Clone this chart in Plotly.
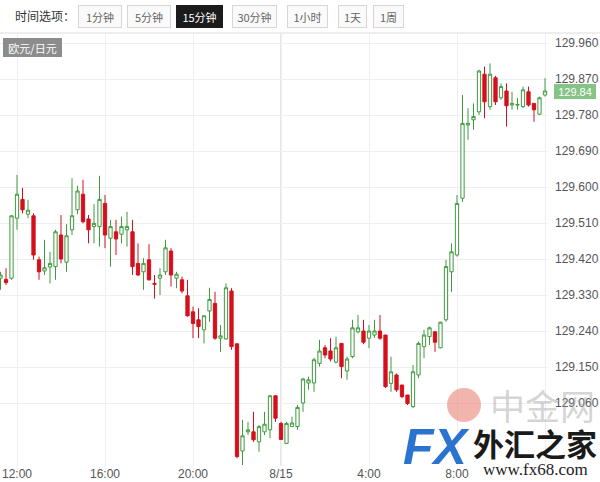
import pandas as pd
import plotly.graph_objects as go

# ---- data (EUR/JPY, 15-minute candles, 2017-08-14 11:15 .. 2017-08-15 12:00) ----
start_time = "2017-08-14 11:15"
opens = [129.372, 129.369, 129.372, 129.522, 129.569, 129.532, 129.528, 129.418, 129.390, 129.400,
         129.401, 129.480, 129.412, 129.493, 129.543, 129.582, 129.520, 129.501, 129.501, 129.559,
         129.472, 129.488, 129.482, 129.493, 129.488, 129.409, 129.388, 129.418, 129.359, 129.372,
         129.388, 129.440, 129.372, 129.368, 129.328, 129.288, 129.268, 129.243, 129.290, 129.309,
         129.222, 129.220, 129.340, 129.208, 128.940, 128.988, 128.988, 128.963, 128.988, 128.993,
         129.078, 129.009, 128.959, 129.001, 129.001, 129.060, 129.110, 129.110, 129.159, 129.198,
         129.190, 129.162, 129.209, 129.140, 129.176, 129.238, 129.240, 129.222, 129.230, 129.240,
         129.230, 129.109, 129.130, 129.105, 129.080, 129.051, 129.130, 129.201, 129.226, 129.238,
         129.198, 129.268, 129.388, 129.430, 129.572, 129.755, 129.768, 129.788, 129.882, 129.801,
         129.873, 129.823, 129.840, 129.805, 129.805, 129.801, 129.838, 129.809, 129.782, 129.830]
highs = [129.388, 129.397, 129.530, 129.630, 129.598, 129.568, 129.534, 129.426, 129.468, 129.438,
         129.493, 129.530, 129.507, 129.622, 129.603, 129.618, 129.530, 129.557, 129.628, 129.580,
         129.518, 129.518, 129.526, 129.538, 129.518, 129.459, 129.422, 129.457, 129.380, 129.397,
         129.468, 129.447, 129.388, 129.376, 129.368, 129.301, 129.297, 129.280, 129.348, 129.338,
         129.255, 129.359, 129.347, 129.209, 129.018, 129.013, 129.038, 129.005, 129.038, 129.080,
         129.080, 129.013, 129.013, 129.026, 129.055, 129.123, 129.126, 129.173, 129.218, 129.205,
         129.222, 129.226, 129.209, 129.176, 129.268, 129.280, 129.268, 129.255, 129.268, 129.280,
         129.230, 129.176, 129.134, 129.105, 129.080, 129.155, 129.213, 129.243, 129.251, 129.240,
         129.263, 129.418, 129.459, 129.580, 129.830, 129.797, 129.809, 129.893, 129.901, 129.909,
         129.878, 129.859, 129.859, 129.838, 129.822, 129.851, 129.851, 129.809, 129.826, 129.872]
lows = [129.343, 129.355, 129.368, 129.493, 129.534, 129.522, 129.418, 129.368, 129.380, 129.359,
        129.368, 129.409, 129.388, 129.480, 129.532, 129.509, 129.459, 129.459, 129.451, 129.447,
        129.401, 129.430, 129.459, 129.451, 129.380, 129.378, 129.343, 129.366, 129.321, 129.330,
        129.380, 129.351, 129.347, 129.334, 129.276, 129.222, 129.222, 129.209, 129.263, 129.218,
        129.188, 129.218, 129.193, 128.922, 128.905, 128.980, 128.963, 128.938, 128.980, 128.972,
        129.013, 128.968, 128.958, 129.001, 128.993, 129.038, 129.093, 129.088, 129.151, 129.172,
        129.164, 129.159, 129.122, 129.118, 129.172, 129.234, 129.207, 129.197, 129.223, 129.218,
        129.097, 129.088, 129.088, 129.072, 129.055, 129.047, 129.122, 129.172, 129.205, 129.188,
        129.197, 129.263, 129.338, 129.426, 129.563, 129.718, 129.743, 129.780, 129.772, 129.793,
        129.805, 129.818, 129.751, 129.793, 129.793, 129.797, 129.801, 129.763, 129.780, 129.826]
closes = [129.380, 129.361, 129.528, 129.582, 129.543, 129.542, 129.430, 129.388, 129.398, 129.409,
          129.488, 129.420, 129.478, 129.528, 129.590, 129.513, 129.493, 129.509, 129.569, 129.480,
          129.501, 129.470, 129.501, 129.501, 129.401, 129.380, 129.409, 129.368, 129.357, 129.380,
          129.448, 129.380, 129.382, 129.340, 129.278, 129.259, 129.251, 129.278, 129.319, 129.222,
          129.228, 129.348, 129.201, 128.926, 128.978, 128.993, 128.968, 129.001, 129.007, 129.078,
          129.022, 128.969, 129.009, 129.010, 129.049, 129.120, 129.118, 129.168, 129.190, 129.180,
          129.170, 129.198, 129.151, 129.170, 129.248, 129.248, 129.212, 129.240, 129.240, 129.222,
          129.101, 129.138, 129.093, 129.076, 129.059, 129.138, 129.209, 129.230, 129.248, 129.212,
          129.262, 129.401, 129.438, 129.559, 129.759, 129.759, 129.776, 129.890, 129.813, 129.882,
          129.813, 129.851, 129.803, 129.809, 129.806, 129.843, 129.805, 129.793, 129.823, 129.840]

y_ticks = [129.060, 129.150, 129.240, 129.330, 129.420, 129.510, 129.600, 129.690, 129.780, 129.870, 129.960]
y_tick_labels = ["129.060", "129.150", "129.240", "129.330", "129.420", "129.510",
                 "129.600", "129.690", "129.780", "129.870", "129.960"]
x_ticks = ["2017-08-14 12:00", "2017-08-14 16:00", "2017-08-14 20:00", "2017-08-15 00:00",
           "2017-08-15 04:00", "2017-08-15 08:00", "2017-08-15 12:00"]
x_tick_labels = ["12:00", "16:00", "20:00", "8/15", "4:00", "8:00", ""]
day_break = "2017-08-15 00:00"
last_price = 129.84
last_price_label = "129.84"
pair_label = "欧元/日元"
period_title = "时间选项："
period_buttons = ["1分钟", "5分钟", "15分钟", "30分钟", "1小时", "1天", "1周"]
selected_button = "15分钟"

times = pd.date_range(start_time, periods=len(opens), freq="15min")

GREEN = "#3f9a3f"
RED = "#d3101c"

fig = go.Figure(go.Candlestick(
    x=times, open=opens, high=highs, low=lows, close=closes,
    increasing=dict(line=dict(color=GREEN, width=1), fillcolor="white"),
    decreasing=dict(line=dict(color=RED, width=1), fillcolor=RED),
    whiskerwidth=0, hoverinfo="skip", showlegend=False,
))

# geometry helpers (pixel -> paper)
W, H = 600, 482
ML, MR, MT, MB = 0, 52, 34, 16
PW, PH = W - ML - MR, H - MT - MB


def px(x):
    return (x - ML) / PW


def py(y):
    return (H - MB - y) / PH


CJK = "Noto Sans CJK SC, Liberation Sans, Arial"

annotations = []
shapes = []

# top separator line
shapes.append(dict(type="line", xref="paper", yref="paper", x0=px(0), x1=px(600), y0=py(33), y1=py(33),
                   line=dict(color="#dcdcdc", width=1), layer="above"))
# day break line
shapes.append(dict(type="line", xref="x", yref="paper", x0=day_break, x1=day_break, y0=0, y1=py(34),
                   line=dict(color="#cfcfcf", width=1), layer="below"))

annotations.append(dict(text=period_title, xref="paper", yref="paper", x=px(13), y=py(16),
                        xanchor="left", yanchor="middle", showarrow=False,
                        font=dict(family=CJK, size=12, color="#333")))

btn_left = [78, 127, 176, 232, 287, 338, 373]
btn_width = [44, 44, 47, 45, 41, 29, 31]
for label, x0, w in zip(period_buttons, btn_left, btn_width):
    sel = label == selected_button
    annotations.append(dict(
        text=label, xref="paper", yref="paper", x=px(x0 + w / 2), y=py(16.5),
        xanchor="center", yanchor="middle", showarrow=False,
        width=w - 2, height=21, borderpad=0,
        bgcolor="#1b1b1b" if sel else "#fafafa",
        bordercolor="#1b1b1b" if sel else "#d6d6d6", borderwidth=1,
        font=dict(family=CJK, size=11, color="white" if sel else "#666"),
    ))

annotations.append(dict(text=pair_label, xref="paper", yref="paper", x=px(32.5), y=py(47.5),
                        xanchor="center", yanchor="middle", showarrow=False,
                        width=57, height=17, borderpad=0, bgcolor="#8c8c8c",
                        bordercolor="#8c8c8c", borderwidth=1,
                        font=dict(family=CJK, size=11, color="white")))

annotations.append(dict(text=last_price_label, xref="paper", yref="y", x=px(575), y=last_price,
                        xanchor="center", yanchor="middle", showarrow=False,
                        width=40, height=13, borderpad=0, bgcolor="#86c386",
                        bordercolor="#86c386", borderwidth=1,
                        font=dict(family="Liberation Sans, Arial", size=11, color="white")))

# watermark (FX68)
shapes.append(dict(type="circle", xref="paper", yref="paper", x0=px(447), x1=px(481), y0=py(422), y1=py(388),
                   fillcolor="rgba(232,120,105,0.55)", line=dict(width=0), layer="above"))
annotations.append(dict(text="中金网", xref="paper", yref="paper", x=px(542), y=py(404),
                        xanchor="center", yanchor="middle", showarrow=False,
                        font=dict(family=CJK, size=35, color="rgba(160,160,160,0.45)")))
annotations.append(dict(text="<b><i>FX</i></b>", xref="paper", yref="paper", x=px(436), y=py(447),
                        xanchor="center", yanchor="middle", showarrow=False,
                        font=dict(family="Liberation Sans, Arial", size=50, color="#2a74cf")))
annotations.append(dict(text="<b>外汇之家</b>", xref="paper", yref="paper", x=px(535), y=py(442),
                        xanchor="center", yanchor="middle", showarrow=False,
                        font=dict(family=CJK, size=31, color="#1a1a1a")))
annotations.append(dict(text="www.fx68.com", xref="paper", yref="paper", x=px(535), y=py(469),
                        xanchor="center", yanchor="middle", showarrow=False,
                        font=dict(family="Liberation Serif, Times New Roman", size=17, color="#222")))

fig.update_layout(
    width=W, height=H,
    margin=dict(l=ML, r=MR, t=MT, b=MB, autoexpand=False),
    paper_bgcolor="white", plot_bgcolor="white",
    showlegend=False, boxgap=0.15,
    annotations=annotations, shapes=shapes,
    xaxis=dict(
        type="date", range=["2017-08-14 11:13:36", "2017-08-15 12:08:11"],
        rangeslider=dict(visible=False), automargin=False,
        tickmode="array", tickvals=x_ticks, ticktext=x_tick_labels,
        showgrid=True, gridcolor="#efefef", gridwidth=1,
        zeroline=False, showline=False, ticks="", ticklabelstandoff=-1,
        tickfont=dict(family="Liberation Sans, Arial", size=12, color="#555"),
    ),
    yaxis=dict(
        side="right", range=[128.9025, 129.9825], automargin=False,
        tickmode="array", tickvals=y_ticks, ticktext=y_tick_labels,
        showgrid=True, gridcolor="#efefef", gridwidth=1,
        zeroline=False, showline=False, ticks="", ticklabelstandoff=6,
        tickfont=dict(family="Liberation Sans, Arial", size=12, color="#555"),
    ),
)

fig.write_html("out.html", config={"displayModeBar": False},
               post_script="document.body.style.margin='0px';")
